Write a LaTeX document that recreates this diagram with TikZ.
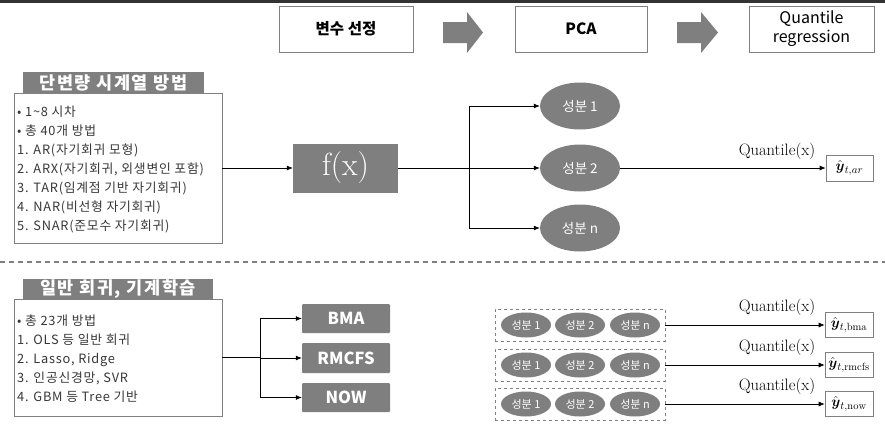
\documentclass[tikz,border=0pt]{standalone}
\usepackage{amsmath}
\usepackage{fontspec}
\newfontfamily\kr{Noto Sans CJK KR}
\newfontfamily\krls[LetterSpace=6]{Noto Sans CJK KR}
\newfontfamily\krhd[LetterSpace=9]{Noto Sans CJK KR}
\usetikzlibrary{arrows.meta,shapes.geometric}
\definecolor{fillgray}{RGB}{127,127,127}
\definecolor{linegray}{RGB}{128,128,128}
\definecolor{txtgray}{RGB}{55,55,55}
\begin{document}
\begin{tikzpicture}[x=1pt,y=-1pt,
  topbox/.style={draw=linegray, line width=0.8pt, minimum width=134pt, minimum height=46pt, font=\kr\bfseries\fontsize{15.5}{18}\selectfont, align=center, inner sep=0pt, text=black},
  hdr/.style={fill=fillgray, text=white, font=\krhd\bfseries\fontsize{17.5}{19}\selectfont, inner sep=0pt},
  listbox/.style={draw=linegray, line width=0.8pt, inner sep=0pt},
  listtxt/.style={anchor=base west, inner sep=0pt, text=txtgray, font=\krls\fontsize{12.8}{14}\selectfont},
  arr/.style={-{Latex[length=6pt,width=5pt]}, line width=0.7pt, black},
  ln/.style={line width=0.7pt, black},
  bigell/.style={ellipse, fill=fillgray, text=white, minimum width=80pt, minimum height=47pt, inner sep=0pt, font=\kr\fontsize{13.5}{15}\selectfont},
  smell/.style={ellipse, fill=fillgray, text=white, minimum width=50pt, minimum height=25pt, inner sep=0pt, font=\kr\fontsize{11}{12}\selectfont},
  gbox/.style={fill=fillgray, text=white, rounded corners=1pt, minimum width=88pt, minimum height=29pt, inner sep=0pt, font=\kr\bfseries\fontsize{16.5}{18}\selectfont},
  dbox/.style={draw=linegray, dashed, line width=0.7pt, minimum width=170pt, minimum height=32pt, inner sep=0pt},
  ybox/.style={draw=linegray, line width=0.7pt, minimum width=48pt, minimum height=25pt, inner sep=0pt, font=\fontsize{15}{17}\selectfont},
  qlab/.style={inner sep=0pt, font=\fontsize{16.5}{18}\selectfont, text=black}
]
\useasboundingbox (0,0) rectangle (885,426);
\fill[black!80] (0,0) rectangle (885,2.5);

% top flow
\node[topbox] (t1) at (346,29) {변수 선정};
\node[topbox, minimum width=132pt] (t2) at (581,29) {PCA};
\node[topbox, minimum width=125pt, font=\kr\fontsize{16}{19}\selectfont] (t3) at (811.5,29) {Quantile\\regression};
\fill[fillgray] (443,22) -- (467,22) -- (467,12) -- (483,32.5) -- (467,53) -- (467,43) -- (443,43) -- cycle;
\fill[fillgray] (677,22) -- (701,22) -- (701,12) -- (718,32.5) -- (701,53) -- (701,43) -- (677,43) -- cycle;

% upper section
\node[listbox, minimum width=208pt, minimum height=150pt] (box1) at (118,168) {};
\node[hdr, minimum width=181pt, minimum height=21pt] (h1) at (113.5,82.5) {단변량 시계열 방법};
\foreach \t [count=\i] in {{• 1\textasciitilde8 시차},{• 총 40개 방법},{1. AR(자기회귀 모형)},{2. ARX(자기회귀, 외생변인 포함)},{3. TAR(임계점 기반 자기회귀)},{4. NAR(비선형 자기회귀)},{5. SNAR(준모수 자기회귀)}}
  \node[listtxt] (a\i) at (17,{116.5+19*(\i-1)}) {\t};

\node[fill=fillgray, text=white, minimum width=105pt, minimum height=49pt, inner sep=0pt, font=\fontsize{32}{34}\selectfont] (fx) at (345.5,168) {f(x)};
\draw[arr] (box1.east) -- (fx.west);
\coordinate (br1) at (469,168);
\node[bigell] (e1) at (580,106) {성분 1};
\node[bigell] (e2) at (580,168) {성분 2};
\node[bigell] (e3) at (580,228) {성분 n};
\draw[ln] (fx.east) -- (br1);
\draw[arr] (br1) |- (e1.west);
\draw[arr] (br1) -- (e2.west);
\draw[arr] (br1) |- (e3.west);
\node[ybox, minimum width=47pt, minimum height=26pt] (yar) at (849.5,168) {$\hat{\boldsymbol{y}}_{t,ar}$};
\draw[arr] (e2.east) -- (yar.west);
\node[qlab] (q0) at (777,151) {Quantile(x)};

% separator
\draw[linegray, line width=1.2pt, dash pattern=on 5pt off 4pt] (0,262) -- (885,262);

% lower section
\node[listbox, minimum width=208pt, minimum height=117pt] (box2) at (118,357.5) {};
\node[hdr, minimum width=190pt, minimum height=20pt] (h2) at (118,289) {일반 회귀, 기계학습};
\foreach \t [count=\i] in {{• 총 23개 방법},{1. OLS 등 일반 회귀},{2. Lasso, Ridge},{3. 인공신경망, SVR},{4. GBM 등 Tree 기반}}
  \node[listtxt] (b\i) at (17,{325+19*(\i-1)}) {\t};

\coordinate (br2) at (260,357.5);
\node[gbox] (bma) at (346,318.5) {BMA};
\node[gbox, minimum height=30pt] (rmcfs) at (346,358) {RMCFS};
\node[gbox] (now) at (346,397.5) {NOW};
\draw[ln] (box2.east) -- (br2);
\draw[arr] (br2) |- (bma.west);
\draw[arr] (br2) |- (rmcfs.west);
\draw[arr] (br2) |- (now.west);

\foreach \n/\y/\s in {1/325/bma,2/365/rmcfs,3/404/now}{
  \node[dbox] (d\n) at (580,\y) {};
  \node[smell] (s\n a) at (526,\y) {성분 1};
  \node[smell] (s\n b) at (580,\y) {성분 2};
  \node[smell] (s\n c) at (635,\y) {성분 n};
  \node[ybox] (y\n) at (849,\y) {$\hat{\boldsymbol{y}}_{t,\mathrm{\s}}$};
  \draw[arr] (d\n.east) -- (y\n.west);
  \node[qlab] (q\n) at (777,{\y-18}) {Quantile(x)};
}
\end{tikzpicture}
\end{document}
